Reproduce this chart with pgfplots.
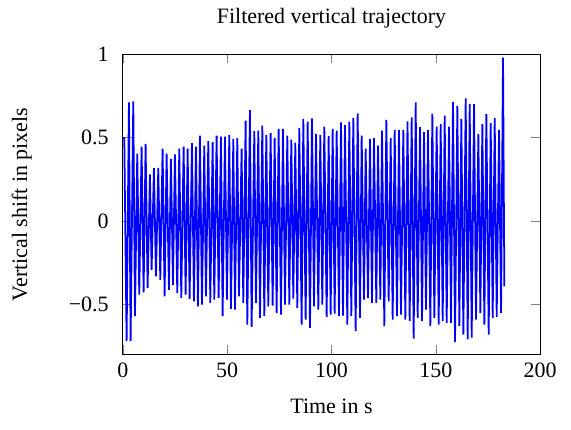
\documentclass[border=0pt]{standalone}
\usepackage{fontspec}
\setmainfont{Liberation Serif}
\usepackage{pgfplots}
\pgfplotsset{compat=1.18}
\usepackage{pgfplotstable}
\pgfplotstableread{
t v
0.00 0.498
0.64 0.498
1.76 -0.718
2.88 0.710
3.68 -0.718
4.96 0.716
5.76 -0.569
6.87 0.403
7.83 -0.440
8.95 0.446
9.91 -0.427
10.87 0.462
11.83 -0.401
12.95 0.280
13.75 -0.292
14.87 0.317
15.83 -0.331
16.95 0.319
17.91 -0.351
19.02 0.433
19.98 -0.450
20.94 0.403
22.06 -0.411
23.02 0.373
23.98 -0.381
24.94 0.399
26.06 -0.431
27.02 0.433
27.98 -0.460
29.10 0.446
30.06 -0.440
31.02 0.433
31.97 -0.466
33.09 0.466
34.05 -0.480
35.01 0.446
35.97 -0.510
36.93 0.512
37.89 -0.500
39.01 0.452
39.81 -0.450
40.93 0.478
41.89 -0.490
43.01 0.472
43.80 -0.470
44.92 0.512
45.88 -0.460
47.00 0.506
47.80 -0.569
48.92 0.506
49.88 -0.470
51.00 0.516
51.80 -0.526
52.92 0.492
53.72 -0.530
54.84 0.496
55.64 -0.450
56.91 0.433
57.71 -0.490
58.83 0.601
59.63 -0.619
60.91 0.665
61.71 -0.633
62.99 0.538
63.79 -0.490
64.91 0.542
65.71 -0.579
66.83 0.571
67.79 -0.569
68.75 0.516
69.70 -0.510
70.82 0.526
71.78 -0.506
72.74 0.498
73.70 -0.550
74.66 0.552
75.78 -0.560
76.74 0.552
77.70 -0.500
78.82 0.512
79.78 -0.500
80.74 0.488
81.69 -0.464
82.65 0.470
83.61 -0.520
84.57 0.558
85.69 -0.619
86.49 0.611
87.61 -0.589
88.57 0.595
89.69 -0.639
90.65 0.615
91.61 -0.510
92.57 0.522
93.69 -0.530
94.64 0.516
95.60 -0.500
96.56 0.565
97.68 -0.573
98.64 0.508
99.60 -0.560
100.56 0.552
101.52 -0.554
102.48 0.542
103.60 -0.569
104.56 0.591
105.52 -0.565
106.47 0.575
107.59 -0.619
108.55 0.595
109.51 -0.569
110.47 0.617
111.59 -0.659
112.55 0.645
113.67 -0.579
114.47 0.512
115.59 -0.470
116.39 0.433
117.51 -0.460
118.47 0.492
119.42 -0.490
120.38 0.496
121.50 -0.490
122.30 0.452
123.42 -0.470
124.22 0.542
125.34 -0.629
126.30 0.605
127.42 -0.480
128.38 0.496
129.34 -0.589
130.30 0.546
131.41 -0.569
132.37 0.546
133.33 -0.560
134.45 0.546
135.41 -0.589
136.45 0.597
137.49 -0.599
138.45 0.621
139.41 -0.704
140.37 0.710
141.33 -0.579
142.45 0.562
143.41 -0.599
144.36 0.532
145.32 -0.530
146.28 0.546
147.40 -0.629
148.36 0.641
149.32 -0.579
150.44 0.565
151.40 -0.619
152.36 0.581
153.32 -0.599
154.28 0.631
155.24 -0.609
156.35 0.565
157.31 -0.609
158.27 0.714
159.23 -0.724
160.35 0.690
161.31 -0.629
162.27 0.611
163.23 -0.679
164.35 0.734
165.31 -0.708
166.27 0.700
167.23 -0.698
168.35 0.700
169.30 -0.589
170.42 0.522
171.38 -0.550
172.34 0.581
173.30 -0.619
174.26 0.641
175.38 -0.679
176.34 0.587
177.30 -0.579
178.26 0.617
179.22 -0.573
180.34 0.546
181.30 -0.550
182.25 0.978
182.89 -0.391
}\trajdata
\begin{document}
\begin{tikzpicture}
\begin{axis}[
  scale only axis,
  width=190pt, height=137pt,
  xmin=0, xmax=200, ymin=-0.8, ymax=1,
  xtick={0,50,100,150,200},
  xticklabels={0,50,100,150,200},
  ytick={-0.5,0,0.5,1},
  yticklabels={−0.5,0,0.5,1},
  title={Filtered vertical trajectory},
  title style={yshift=2pt},
  xlabel={Time in s},
  ylabel={Vertical shift in pixels},
  xlabel shift=3pt,
  ylabel shift=10pt,
  yticklabel style={xshift=-3pt},
  tick label style={font=\normalsize},
]
\addplot[blue, line width=0.8pt] table[x=t, y=v] {\trajdata};
\end{axis}
\pgfresetboundingbox
\path[use as bounding box] ([shift={(-56pt,-34.2pt)}]current axis.south west) rectangle ([shift={(14.1pt,24.6pt)}]current axis.north east);
\end{tikzpicture}
\end{document}
